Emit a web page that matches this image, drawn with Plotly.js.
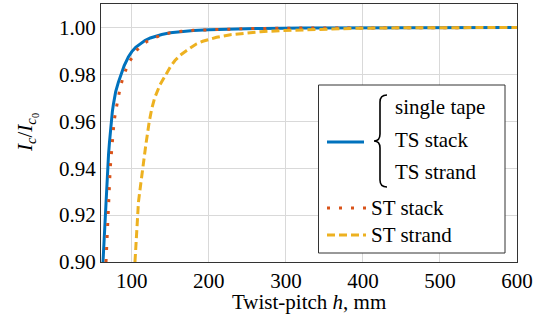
<!DOCTYPE html>
<html>
<head>
<meta charset="utf-8">
<script src="https://cdn.plot.ly/plotly-3.0.1.min.js"></script>
<style>html,body{margin:0;padding:0;background:#fff;}#chart{width:547px;height:324px;}</style>
</head>
<body>
<div id="chart"></div>
<script>
// ---- data ----
const tsH = [62.6, 63.3, 64, 64.8, 65.6, 66.3, 67, 67.8, 68.6, 69.8, 71, 72.2, 73.4, 74.7, 76, 77.5, 79, 82.5, 86, 90, 95.5, 100, 105, 111, 117, 124, 131, 138.8, 150, 160, 170, 180, 200, 230, 270, 320, 400, 500, 600];
const tsVal = [0.900, 0.905, 0.910, 0.915, 0.920, 0.925, 0.930, 0.935, 0.940, 0.946, 0.951, 0.956, 0.960, 0.964, 0.967, 0.970, 0.9725, 0.9766, 0.9802, 0.9836, 0.9874, 0.9897, 0.9915, 0.9931, 0.9944, 0.9955, 0.9963, 0.9970, 0.9977, 0.9981, 0.9985, 0.9987, 0.9990, 0.9993, 0.9996, 0.9998, 0.9999, 1.0, 1.0];

const stStackH = [66.5, 67.7, 69, 70.5, 72, 73.2, 74.5, 75.7, 77, 79.5, 82, 85, 88, 92, 97.6, 102, 107, 113, 119.6, 127, 134.7, 142, 150, 157, 165, 180, 212, 250, 300, 400, 500, 600];
const stStackVal = [0.900, 0.910, 0.920, 0.930, 0.940, 0.945, 0.950, 0.955, 0.960, 0.965, 0.970, 0.9745, 0.9780, 0.9817, 0.9858, 0.9883, 0.9905, 0.9924, 0.9940, 0.9953, 0.9963, 0.9971, 0.9977, 0.9981, 0.9984, 0.9988, 0.9992, 0.9995, 0.9997, 0.9999, 1.0, 1.0];

const stStrandH = [104.1, 105.5, 107.1, 108.6, 110.3, 114.1, 118.2, 122.7, 126, 129.7, 136.5, 144.4, 150, 156, 163, 171.2, 177.5, 184.2, 192, 201.5, 210, 228, 249, 267, 292, 322, 353, 387, 430, 500, 600];
const stStrandVal = [0.900, 0.910, 0.920, 0.9255, 0.930, 0.940, 0.950, 0.960, 0.9655, 0.970, 0.9755, 0.980, 0.9832, 0.9859, 0.9882, 0.9902, 0.9916, 0.9930, 0.9941, 0.9951, 0.9958, 0.9969, 0.9977, 0.9982, 0.9986, 0.9990, 0.9993, 0.9996, 0.9998, 0.9999, 1.0];

const xTicks = [100, 200, 300, 400, 500, 600];
const yTicks = [0.90, 0.92, 0.94, 0.96, 0.98, 1.00];
const tsLabels = ['single tape', 'TS stack', 'TS strand'];
const stStackLabel = 'ST stack';
const stStrandLabel = 'ST strand';

(function () {
  const W = 547, H = 324;
  const M = {l: 101, r: 30, t: 4, b: 62};
  const PW = W - M.l - M.r, PH = H - M.t - M.b;
  const toX = px => (px - M.l) / PW;
  const toY = py => (M.t + PH - py) / PH;
  const FAM = 'Liberation Serif';
  const BLUE = '#0072BD', RED = '#D95319', GOLD = '#EDB120';
  const fnt = () => ({family: FAM, size: 21, color: '#000000'});

  const traces = [
    {x: tsH, y: tsVal, mode: 'lines', line: {color: BLUE, width: 3}, showlegend: false},
    {x: stStackH, y: stStackVal, mode: 'lines', line: {color: RED, width: 3, dash: '3px,9px'}, showlegend: false},
    {x: stStrandH, y: stStrandVal, mode: 'lines', line: {color: GOLD, width: 3, dash: '8px,4px'}, showlegend: false}
  ];

  const pt = (px, py) => toX(px).toFixed(5) + ',' + toY(py).toFixed(5);
  const brace = 'M ' + pt(387, 95) + ' Q ' + pt(380, 95) + ' ' + pt(380, 102) +
    ' L ' + pt(380, 134) + ' Q ' + pt(380, 141) + ' ' + pt(374, 141) +
    ' Q ' + pt(380, 141) + ' ' + pt(380, 148) + ' L ' + pt(380, 180) +
    ' Q ' + pt(380, 187) + ' ' + pt(387, 187);

  const shapes = [
    {type: 'rect', xref: 'paper', yref: 'paper', x0: toX(318.5), x1: toX(505), y0: toY(253), y1: toY(85),
     fillcolor: '#ffffff', line: {color: '#333333', width: 1}, layer: 'above'},
    {type: 'line', xref: 'paper', yref: 'paper', x0: toX(327), x1: toX(364), y0: toY(142), y1: toY(142),
     line: {color: BLUE, width: 3}, layer: 'above'},
    {type: 'path', xref: 'paper', yref: 'paper', path: brace, line: {color: '#000000', width: 1.6}, layer: 'above'},
    {type: 'line', xref: 'paper', yref: 'paper', x0: toX(327), x1: toX(366), y0: toY(208), y1: toY(208),
     line: {color: RED, width: 3, dash: '3px,9px'}, layer: 'above'},
    {type: 'line', xref: 'paper', yref: 'paper', x0: toX(327), x1: toX(366), y0: toY(235), y1: toY(235),
     line: {color: GOLD, width: 3, dash: '8px,4px'}, layer: 'above'}
  ];

  const txt = (s, px, py) => ({text: s, xref: 'paper', yref: 'paper', x: toX(px), y: toY(py),
    xanchor: 'left', yanchor: 'middle', showarrow: false, font: fnt()});

  const annotations = [
    txt(tsLabels[0], 393, 107),
    txt(tsLabels[1], 393, 140),
    txt(tsLabels[2], 393, 172),
    txt(stStackLabel, 369, 208),
    txt(stStrandLabel, 369, 235),
    {text: 'Twist-pitch <i>h</i>, mm', xref: 'paper', yref: 'paper', x: toX(309), y: toY(302),
     xanchor: 'center', yanchor: 'middle', showarrow: false, font: fnt()},
    {text: '<i>I</i><sub><i>c</i></sub>/<i>I</i><sub><i>c</i><sub>0</sub></sub>', xref: 'paper', yref: 'paper', x: toX(27), y: toY(133),
     xanchor: 'center', yanchor: 'middle', textangle: -90, showarrow: false, font: fnt()}
  ];

  const layout = {
    width: W, height: H,
    margin: M,
    paper_bgcolor: '#ffffff', plot_bgcolor: '#ffffff',
    showlegend: false,
    xaxis: {range: [60, 600], tickvals: xTicks, ticktext: xTicks.map(String), showgrid: true, gridcolor: '#d9d9d9', gridwidth: 1,
            zeroline: false, showline: true, mirror: true, linecolor: '#333333', linewidth: 1, ticks: '',
            tickfont: fnt()},
    yaxis: {range: [0.9, 1.01], tickvals: yTicks, ticktext: yTicks.map(v => v.toFixed(2)), showgrid: true, gridcolor: '#d9d9d9', gridwidth: 1,
            zeroline: false, showline: true, mirror: true, linecolor: '#333333', linewidth: 1, ticks: '',
            tickfont: fnt()},
    shapes: shapes,
    annotations: annotations
  };

  Plotly.newPlot('chart', traces, layout, {staticPlot: true});
})();
</script>
</body>
</html>
